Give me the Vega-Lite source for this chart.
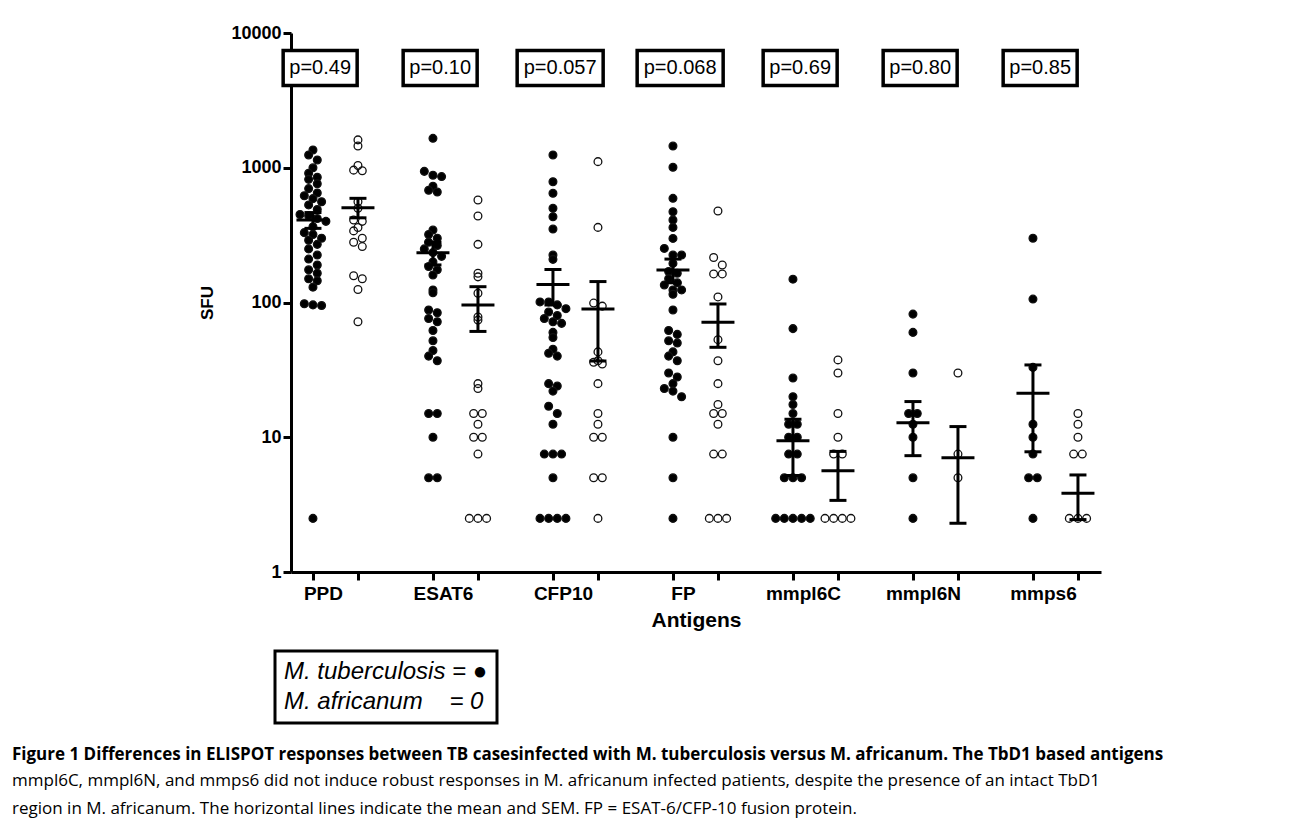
{
  "$schema": "https://vega.github.io/schema/vega-lite/v6.json",
  "width": 810,
  "height": 539,
  "autosize": {"type": "none"},
  "padding": {"left": 291, "top": 33, "right": 189, "bottom": 252},
  "background": "white",
  "title": {
    "text": "Figure 1 Differences in ELISPOT responses between TB casesinfected with M. tuberculosis versus M. africanum. The TbD1 based antigens",
    "subtitle": ["mmpl6C, mmpl6N, and mmps6 did not induce robust responses in M. africanum infected patients, despite the presence of an intact TbD1", "region in M. africanum. The horizontal lines indicate the mean and SEM. FP = ESAT-6/CFP-10 fusion protein."],
    "orient": "bottom", "anchor": "start", "frame": "group", "dx": -279, "offset": 22,
    "font": "Open Sans", "fontSize": 17, "fontWeight": "bold", "color": "#000000",
    "subtitleFont": "Open Sans", "subtitleFontSize": 17, "subtitleColor": "#000000", "subtitlePadding": 9, "subtitleLineHeight": 28
  },
  "config": {
    "view": {"stroke": null},
    "axis": {"domainColor": "#000000", "domainWidth": 3, "tickColor": "#000000", "tickWidth": 3, "tickSize": 8, "labelColor": "#000000", "titleColor": "#000000", "grid": false, "labelFont": "Liberation Sans", "titleFont": "Liberation Sans"},
    "legend": {"strokeWidth": 3}
  },
  "datasets": {
    "pts": [
      {"antigen":"PPD","group":"Mtb","sfu":1355},{"antigen":"PPD","group":"Mtb","sfu":1244},{"antigen":"PPD","group":"Mtb","sfu":1142},{"antigen":"PPD","group":"Mtb","sfu":1000},{"antigen":"PPD","group":"Mtb","sfu":910},{"antigen":"PPD","group":"Mtb","sfu":850},{"antigen":"PPD","group":"Mtb","sfu":820},{"antigen":"PPD","group":"Mtb","sfu":760},{"antigen":"PPD","group":"Mtb","sfu":700},{"antigen":"PPD","group":"Mtb","sfu":650},{"antigen":"PPD","group":"Mtb","sfu":620},{"antigen":"PPD","group":"Mtb","sfu":590},{"antigen":"PPD","group":"Mtb","sfu":560},{"antigen":"PPD","group":"Mtb","sfu":530},{"antigen":"PPD","group":"Mtb","sfu":490},{"antigen":"PPD","group":"Mtb","sfu":450},{"antigen":"PPD","group":"Mtb","sfu":440},{"antigen":"PPD","group":"Mtb","sfu":420},{"antigen":"PPD","group":"Mtb","sfu":400},{"antigen":"PPD","group":"Mtb","sfu":365},{"antigen":"PPD","group":"Mtb","sfu":330},{"antigen":"PPD","group":"Mtb","sfu":320},{"antigen":"PPD","group":"Mtb","sfu":300},{"antigen":"PPD","group":"Mtb","sfu":290},{"antigen":"PPD","group":"Mtb","sfu":270},{"antigen":"PPD","group":"Mtb","sfu":250},{"antigen":"PPD","group":"Mtb","sfu":225},{"antigen":"PPD","group":"Mtb","sfu":210},{"antigen":"PPD","group":"Mtb","sfu":190},{"antigen":"PPD","group":"Mtb","sfu":175},{"antigen":"PPD","group":"Mtb","sfu":165},{"antigen":"PPD","group":"Mtb","sfu":150},{"antigen":"PPD","group":"Mtb","sfu":145},{"antigen":"PPD","group":"Mtb","sfu":130},{"antigen":"PPD","group":"Mtb","sfu":98},{"antigen":"PPD","group":"Mtb","sfu":96},{"antigen":"PPD","group":"Mtb","sfu":95},{"antigen":"PPD","group":"Mtb","sfu":2.5},
      {"antigen":"PPD","group":"Maf","sfu":1610},{"antigen":"PPD","group":"Maf","sfu":1450},{"antigen":"PPD","group":"Maf","sfu":1040},{"antigen":"PPD","group":"Maf","sfu":960},{"antigen":"PPD","group":"Maf","sfu":950},{"antigen":"PPD","group":"Maf","sfu":560},{"antigen":"PPD","group":"Maf","sfu":500},{"antigen":"PPD","group":"Maf","sfu":410},{"antigen":"PPD","group":"Maf","sfu":400},{"antigen":"PPD","group":"Maf","sfu":360},{"antigen":"PPD","group":"Maf","sfu":340},{"antigen":"PPD","group":"Maf","sfu":300},{"antigen":"PPD","group":"Maf","sfu":280},{"antigen":"PPD","group":"Maf","sfu":260},{"antigen":"PPD","group":"Maf","sfu":158},{"antigen":"PPD","group":"Maf","sfu":150},{"antigen":"PPD","group":"Maf","sfu":125},{"antigen":"PPD","group":"Maf","sfu":72},
      {"antigen":"ESAT6","group":"Mtb","sfu":1653},{"antigen":"ESAT6","group":"Mtb","sfu":940},{"antigen":"ESAT6","group":"Mtb","sfu":880},{"antigen":"ESAT6","group":"Mtb","sfu":860},{"antigen":"ESAT6","group":"Mtb","sfu":730},{"antigen":"ESAT6","group":"Mtb","sfu":680},{"antigen":"ESAT6","group":"Mtb","sfu":660},{"antigen":"ESAT6","group":"Mtb","sfu":345},{"antigen":"ESAT6","group":"Mtb","sfu":320},{"antigen":"ESAT6","group":"Mtb","sfu":300},{"antigen":"ESAT6","group":"Mtb","sfu":280},{"antigen":"ESAT6","group":"Mtb","sfu":265},{"antigen":"ESAT6","group":"Mtb","sfu":250},{"antigen":"ESAT6","group":"Mtb","sfu":235},{"antigen":"ESAT6","group":"Mtb","sfu":220},{"antigen":"ESAT6","group":"Mtb","sfu":200},{"antigen":"ESAT6","group":"Mtb","sfu":185},{"antigen":"ESAT6","group":"Mtb","sfu":175},{"antigen":"ESAT6","group":"Mtb","sfu":160},{"antigen":"ESAT6","group":"Mtb","sfu":124},{"antigen":"ESAT6","group":"Mtb","sfu":118},{"antigen":"ESAT6","group":"Mtb","sfu":88},{"antigen":"ESAT6","group":"Mtb","sfu":84},{"antigen":"ESAT6","group":"Mtb","sfu":76},{"antigen":"ESAT6","group":"Mtb","sfu":72},{"antigen":"ESAT6","group":"Mtb","sfu":62},{"antigen":"ESAT6","group":"Mtb","sfu":52},{"antigen":"ESAT6","group":"Mtb","sfu":44},{"antigen":"ESAT6","group":"Mtb","sfu":40},{"antigen":"ESAT6","group":"Mtb","sfu":37},{"antigen":"ESAT6","group":"Mtb","sfu":15},{"antigen":"ESAT6","group":"Mtb","sfu":15},{"antigen":"ESAT6","group":"Mtb","sfu":10},{"antigen":"ESAT6","group":"Mtb","sfu":5},{"antigen":"ESAT6","group":"Mtb","sfu":5},
      {"antigen":"ESAT6","group":"Maf","sfu":576},{"antigen":"ESAT6","group":"Maf","sfu":438},{"antigen":"ESAT6","group":"Maf","sfu":270},{"antigen":"ESAT6","group":"Maf","sfu":165},{"antigen":"ESAT6","group":"Maf","sfu":155},{"antigen":"ESAT6","group":"Maf","sfu":117},{"antigen":"ESAT6","group":"Maf","sfu":78},{"antigen":"ESAT6","group":"Maf","sfu":74},{"antigen":"ESAT6","group":"Maf","sfu":25},{"antigen":"ESAT6","group":"Maf","sfu":23},{"antigen":"ESAT6","group":"Maf","sfu":15},{"antigen":"ESAT6","group":"Maf","sfu":15},{"antigen":"ESAT6","group":"Maf","sfu":12.5},{"antigen":"ESAT6","group":"Maf","sfu":10},{"antigen":"ESAT6","group":"Maf","sfu":10},{"antigen":"ESAT6","group":"Maf","sfu":7.5},{"antigen":"ESAT6","group":"Maf","sfu":2.5},{"antigen":"ESAT6","group":"Maf","sfu":2.5},{"antigen":"ESAT6","group":"Maf","sfu":2.5},
      {"antigen":"CFP10","group":"Mtb","sfu":1244},{"antigen":"CFP10","group":"Mtb","sfu":788},{"antigen":"CFP10","group":"Mtb","sfu":646},{"antigen":"CFP10","group":"Mtb","sfu":500},{"antigen":"CFP10","group":"Mtb","sfu":433},{"antigen":"CFP10","group":"Mtb","sfu":351},{"antigen":"CFP10","group":"Mtb","sfu":225},{"antigen":"CFP10","group":"Mtb","sfu":209},{"antigen":"CFP10","group":"Mtb","sfu":101},{"antigen":"CFP10","group":"Mtb","sfu":101},{"antigen":"CFP10","group":"Mtb","sfu":96},{"antigen":"CFP10","group":"Mtb","sfu":90},{"antigen":"CFP10","group":"Mtb","sfu":85},{"antigen":"CFP10","group":"Mtb","sfu":80},{"antigen":"CFP10","group":"Mtb","sfu":76},{"antigen":"CFP10","group":"Mtb","sfu":72},{"antigen":"CFP10","group":"Mtb","sfu":70},{"antigen":"CFP10","group":"Mtb","sfu":60},{"antigen":"CFP10","group":"Mtb","sfu":55},{"antigen":"CFP10","group":"Mtb","sfu":45},{"antigen":"CFP10","group":"Mtb","sfu":42},{"antigen":"CFP10","group":"Mtb","sfu":40},{"antigen":"CFP10","group":"Mtb","sfu":25},{"antigen":"CFP10","group":"Mtb","sfu":24},{"antigen":"CFP10","group":"Mtb","sfu":22},{"antigen":"CFP10","group":"Mtb","sfu":17},{"antigen":"CFP10","group":"Mtb","sfu":15},{"antigen":"CFP10","group":"Mtb","sfu":12.5},{"antigen":"CFP10","group":"Mtb","sfu":7.5},{"antigen":"CFP10","group":"Mtb","sfu":7.5},{"antigen":"CFP10","group":"Mtb","sfu":7.5},{"antigen":"CFP10","group":"Mtb","sfu":5},{"antigen":"CFP10","group":"Mtb","sfu":2.5},{"antigen":"CFP10","group":"Mtb","sfu":2.5},{"antigen":"CFP10","group":"Mtb","sfu":2.5},{"antigen":"CFP10","group":"Mtb","sfu":2.5},
      {"antigen":"CFP10","group":"Maf","sfu":1110},{"antigen":"CFP10","group":"Maf","sfu":361},{"antigen":"CFP10","group":"Maf","sfu":99},{"antigen":"CFP10","group":"Maf","sfu":94},{"antigen":"CFP10","group":"Maf","sfu":43},{"antigen":"CFP10","group":"Maf","sfu":37},{"antigen":"CFP10","group":"Maf","sfu":36},{"antigen":"CFP10","group":"Maf","sfu":35},{"antigen":"CFP10","group":"Maf","sfu":25},{"antigen":"CFP10","group":"Maf","sfu":15},{"antigen":"CFP10","group":"Maf","sfu":12.5},{"antigen":"CFP10","group":"Maf","sfu":10},{"antigen":"CFP10","group":"Maf","sfu":10},{"antigen":"CFP10","group":"Maf","sfu":5},{"antigen":"CFP10","group":"Maf","sfu":5},{"antigen":"CFP10","group":"Maf","sfu":2.5},
      {"antigen":"FP","group":"Mtb","sfu":1449},{"antigen":"FP","group":"Mtb","sfu":1008},{"antigen":"FP","group":"Mtb","sfu":593},{"antigen":"FP","group":"Mtb","sfu":472},{"antigen":"FP","group":"Mtb","sfu":410},{"antigen":"FP","group":"Mtb","sfu":361},{"antigen":"FP","group":"Mtb","sfu":299},{"antigen":"FP","group":"Mtb","sfu":252},{"antigen":"FP","group":"Mtb","sfu":225},{"antigen":"FP","group":"Mtb","sfu":225},{"antigen":"FP","group":"Mtb","sfu":195},{"antigen":"FP","group":"Mtb","sfu":170},{"antigen":"FP","group":"Mtb","sfu":165},{"antigen":"FP","group":"Mtb","sfu":150},{"antigen":"FP","group":"Mtb","sfu":140},{"antigen":"FP","group":"Mtb","sfu":135},{"antigen":"FP","group":"Mtb","sfu":124},{"antigen":"FP","group":"Mtb","sfu":124},{"antigen":"FP","group":"Mtb","sfu":115},{"antigen":"FP","group":"Mtb","sfu":88},{"antigen":"FP","group":"Mtb","sfu":62},{"antigen":"FP","group":"Mtb","sfu":58},{"antigen":"FP","group":"Mtb","sfu":52},{"antigen":"FP","group":"Mtb","sfu":50},{"antigen":"FP","group":"Mtb","sfu":43},{"antigen":"FP","group":"Mtb","sfu":40},{"antigen":"FP","group":"Mtb","sfu":37},{"antigen":"FP","group":"Mtb","sfu":30},{"antigen":"FP","group":"Mtb","sfu":28},{"antigen":"FP","group":"Mtb","sfu":25},{"antigen":"FP","group":"Mtb","sfu":23},{"antigen":"FP","group":"Mtb","sfu":22},{"antigen":"FP","group":"Mtb","sfu":20},{"antigen":"FP","group":"Mtb","sfu":10},{"antigen":"FP","group":"Mtb","sfu":5},{"antigen":"FP","group":"Mtb","sfu":2.5},
      {"antigen":"FP","group":"Maf","sfu":478},{"antigen":"FP","group":"Maf","sfu":216},{"antigen":"FP","group":"Maf","sfu":190},{"antigen":"FP","group":"Maf","sfu":163},{"antigen":"FP","group":"Maf","sfu":163},{"antigen":"FP","group":"Maf","sfu":110},{"antigen":"FP","group":"Maf","sfu":53},{"antigen":"FP","group":"Maf","sfu":37},{"antigen":"FP","group":"Maf","sfu":25},{"antigen":"FP","group":"Maf","sfu":17.5},{"antigen":"FP","group":"Maf","sfu":15},{"antigen":"FP","group":"Maf","sfu":15},{"antigen":"FP","group":"Maf","sfu":12.5},{"antigen":"FP","group":"Maf","sfu":7.5},{"antigen":"FP","group":"Maf","sfu":7.5},{"antigen":"FP","group":"Maf","sfu":2.5},{"antigen":"FP","group":"Maf","sfu":2.5},{"antigen":"FP","group":"Maf","sfu":2.5},
      {"antigen":"mmpl6C","group":"Mtb","sfu":149},{"antigen":"mmpl6C","group":"Mtb","sfu":64},{"antigen":"mmpl6C","group":"Mtb","sfu":27.5},{"antigen":"mmpl6C","group":"Mtb","sfu":20},{"antigen":"mmpl6C","group":"Mtb","sfu":17.5},{"antigen":"mmpl6C","group":"Mtb","sfu":15},{"antigen":"mmpl6C","group":"Mtb","sfu":12.5},{"antigen":"mmpl6C","group":"Mtb","sfu":12.5},{"antigen":"mmpl6C","group":"Mtb","sfu":10},{"antigen":"mmpl6C","group":"Mtb","sfu":10},{"antigen":"mmpl6C","group":"Mtb","sfu":7.5},{"antigen":"mmpl6C","group":"Mtb","sfu":7.5},{"antigen":"mmpl6C","group":"Mtb","sfu":5},{"antigen":"mmpl6C","group":"Mtb","sfu":5},{"antigen":"mmpl6C","group":"Mtb","sfu":5},{"antigen":"mmpl6C","group":"Mtb","sfu":2.5},{"antigen":"mmpl6C","group":"Mtb","sfu":2.5},{"antigen":"mmpl6C","group":"Mtb","sfu":2.5},{"antigen":"mmpl6C","group":"Mtb","sfu":2.5},{"antigen":"mmpl6C","group":"Mtb","sfu":2.5},
      {"antigen":"mmpl6C","group":"Maf","sfu":37.5},{"antigen":"mmpl6C","group":"Maf","sfu":30},{"antigen":"mmpl6C","group":"Maf","sfu":15},{"antigen":"mmpl6C","group":"Maf","sfu":10},{"antigen":"mmpl6C","group":"Maf","sfu":7.5},{"antigen":"mmpl6C","group":"Maf","sfu":7.5},{"antigen":"mmpl6C","group":"Maf","sfu":2.5},{"antigen":"mmpl6C","group":"Maf","sfu":2.5},{"antigen":"mmpl6C","group":"Maf","sfu":2.5},{"antigen":"mmpl6C","group":"Maf","sfu":2.5},
      {"antigen":"mmpl6N","group":"Mtb","sfu":82},{"antigen":"mmpl6N","group":"Mtb","sfu":60},{"antigen":"mmpl6N","group":"Mtb","sfu":30},{"antigen":"mmpl6N","group":"Mtb","sfu":15},{"antigen":"mmpl6N","group":"Mtb","sfu":15},{"antigen":"mmpl6N","group":"Mtb","sfu":12.5},{"antigen":"mmpl6N","group":"Mtb","sfu":10},{"antigen":"mmpl6N","group":"Mtb","sfu":5},{"antigen":"mmpl6N","group":"Mtb","sfu":2.5},
      {"antigen":"mmpl6N","group":"Maf","sfu":30},{"antigen":"mmpl6N","group":"Maf","sfu":7.5},{"antigen":"mmpl6N","group":"Maf","sfu":5},
      {"antigen":"mmps6","group":"Mtb","sfu":300},{"antigen":"mmps6","group":"Mtb","sfu":106},{"antigen":"mmps6","group":"Mtb","sfu":33},{"antigen":"mmps6","group":"Mtb","sfu":12.5},{"antigen":"mmps6","group":"Mtb","sfu":10},{"antigen":"mmps6","group":"Mtb","sfu":7.5},{"antigen":"mmps6","group":"Mtb","sfu":5},{"antigen":"mmps6","group":"Mtb","sfu":5},{"antigen":"mmps6","group":"Mtb","sfu":2.5},
      {"antigen":"mmps6","group":"Maf","sfu":15},{"antigen":"mmps6","group":"Maf","sfu":12.5},{"antigen":"mmps6","group":"Maf","sfu":10},{"antigen":"mmps6","group":"Maf","sfu":7.5},{"antigen":"mmps6","group":"Maf","sfu":7.5},{"antigen":"mmps6","group":"Maf","sfu":2.5},{"antigen":"mmps6","group":"Maf","sfu":2.5},{"antigen":"mmps6","group":"Maf","sfu":2.5}
    ],
    "stats": [
      {"antigen":"PPD","group":"Mtb","mean":410,"lo":355,"hi":465},
      {"antigen":"PPD","group":"Maf","mean":505,"lo":425,"hi":593},
      {"antigen":"ESAT6","group":"Mtb","mean":234,"lo":190,"hi":280},
      {"antigen":"ESAT6","group":"Maf","mean":96,"lo":61,"hi":131},
      {"antigen":"CFP10","group":"Mtb","mean":136,"lo":96,"hi":176},
      {"antigen":"CFP10","group":"Maf","mean":89.5,"lo":36.8,"hi":143},
      {"antigen":"FP","group":"Mtb","mean":174,"lo":140,"hi":210},
      {"antigen":"FP","group":"Maf","mean":71.3,"lo":46.5,"hi":97.5},
      {"antigen":"mmpl6C","group":"Mtb","mean":9.4,"lo":5.2,"hi":13.6},
      {"antigen":"mmpl6C","group":"Maf","mean":5.65,"lo":3.4,"hi":7.85},
      {"antigen":"mmpl6N","group":"Mtb","mean":12.8,"lo":7.3,"hi":18.4},
      {"antigen":"mmpl6N","group":"Maf","mean":7.05,"lo":2.3,"hi":12},
      {"antigen":"mmps6","group":"Mtb","mean":21.2,"lo":7.8,"hi":34.4},
      {"antigen":"mmps6","group":"Maf","mean":3.84,"lo":2.45,"hi":5.25}
    ],
    "pvals": [
      {"antigen":"PPD","p":"p=0.49"},
      {"antigen":"ESAT6","p":"p=0.10"},
      {"antigen":"CFP10","p":"p=0.057"},
      {"antigen":"FP","p":"p=0.068"},
      {"antigen":"mmpl6C","p":"p=0.69"},
      {"antigen":"mmpl6N","p":"p=0.80"},
      {"antigen":"mmps6","p":"p=0.85"}
    ]
  },
  "layer": [
    {
      "data": {"name": "pts"},
      "transform": [
        {"calculate": "indexof(['PPD','ESAT6','CFP10','FP','mmpl6C','mmpl6N','mmps6'], datum.antigen) + (datum.group == 'Maf' ? 0.375 : 0)", "as": "base"},
        {"calculate": "floor(log(datum.sfu) / LN10 / 0.065)", "as": "bin"},
        {"window": [{"op": "row_number", "as": "k"}], "groupby": ["antigen", "group", "bin"]},
        {"joinaggregate": [{"op": "count", "as": "n"}], "groupby": ["antigen", "group", "bin"]},
        {"calculate": "datum.base + (datum.k - (datum.n + 1) / 2) * 0.072", "as": "xpos"}
      ],
      "mark": {"type": "point", "shape": "circle", "filled": true, "size": 60, "stroke": "#111111", "strokeWidth": 1.3, "opacity": 1},
      "encoding": {
        "x": {"field": "xpos", "type": "quantitative",
              "scale": {"domain": [-0.183, 6.567], "nice": false, "zero": false},
              "axis": {"values": [0, 0.375, 1, 1.375, 2, 2.375, 3, 3.375, 4, 4.375, 5, 5.375, 6, 6.375],
                       "labelExpr": "datum.value % 1 === 0 ? ['PPD','ESAT6','CFP10','FP','mmpl6C','mmpl6N','mmps6'][datum.value] : ''",
                       "labelOverlap": false, "labelFontSize": 19, "labelFontWeight": "bold", "labelOffset": 10, "labelPadding": 4,
                       "title": "Antigens", "titleFontSize": 21, "titleFontWeight": "bold", "titlePadding": 6}},
        "y": {"field": "sfu", "type": "quantitative",
              "scale": {"type": "log", "domain": [1, 10000], "nice": false},
              "axis": {"values": [1, 10, 100, 1000, 10000], "format": "d", "labelFontSize": 18, "labelFontWeight": "bold", "labelPadding": 2,
                       "title": "SFU", "titleFontSize": 17, "titleFontWeight": "bold", "titlePadding": 14}},
        "fill": {"field": "group", "type": "nominal",
                 "scale": {"domain": ["Mtb", "Maf"], "range": ["#000000", "transparent"]},
                 "legend": {"orient": "none", "legendX": -16, "legendY": 618, "title": null,
                            "labelExpr": "datum.label == 'Mtb' ? 'M. tuberculosis = ●' : 'M. africanum\u00a0\u00a0\u00a0\u00a0= 0'",
                            "labelFont": "Liberation Sans", "labelFontStyle": "italic", "labelFontSize": 24, "labelColor": "#000000", "labelLimit": 400,
                            "symbolSize": 0, "symbolStrokeWidth": 0, "symbolOpacity": 0, "labelOffset": -24,
                            "strokeColor": "#000000", "padding": 9, "rowPadding": 6}}
      }
    },
    {
      "mark": {"type": "rule", "strokeDash": [9, 5], "strokeWidth": 2.5, "color": "#000000"},
      "encoding": {"y": {"datum": 8}}
    },
    {
      "data": {"name": "stats"},
      "transform": [
        {"calculate": "indexof(['PPD','ESAT6','CFP10','FP','mmpl6C','mmpl6N','mmps6'], datum.antigen) + (datum.group == 'Maf' ? 0.375 : 0)", "as": "base"}
      ],
      "layer": [
        {
          "mark": {"type": "rule", "strokeWidth": 3, "color": "#000000"},
          "encoding": {
            "x": {"field": "base", "type": "quantitative"},
            "y": {"field": "lo", "type": "quantitative"},
            "y2": {"field": "hi"}
          }
        },
        {
          "mark": {"type": "tick", "orient": "horizontal", "size": 33, "thickness": 3, "color": "#000000", "opacity": 1},
          "encoding": {
            "x": {"field": "base", "type": "quantitative"},
            "y": {"field": "mean", "type": "quantitative"}
          }
        },
        {
          "transform": [{"fold": ["lo", "hi"], "as": ["bound", "val"]}],
          "mark": {"type": "tick", "orient": "horizontal", "size": 17, "thickness": 3, "color": "#000000", "opacity": 1},
          "encoding": {
            "x": {"field": "base", "type": "quantitative"},
            "y": {"field": "val", "type": "quantitative"}
          }
        }
      ]
    },
    {
      "data": {"name": "pvals"},
      "transform": [
        {"calculate": "indexof(['PPD','ESAT6','CFP10','FP','mmpl6C','mmpl6N','mmps6'], datum.antigen) + 0.06", "as": "px"}
      ],
      "layer": [
        {
          "mark": {"type": "point", "filled": false, "fill": "#ffffff", "stroke": "#000000", "strokeWidth": 3.5, "opacity": 1},
          "encoding": {
            "x": {"field": "px", "type": "quantitative"},
            "y": {"datum": 5500},
            "shape": {"condition": {"test": "length(datum.p) > 6", "value": "M-1,-0.407H1V0.407H-1Z"}, "value": "M-1,-0.473H1V0.473H-1Z"},
            "size": {"condition": {"test": "length(datum.p) > 6", "value": 7396}, "value": 5476}
          }
        },
        {
          "mark": {"type": "text", "font": "Liberation Sans", "fontSize": 20, "color": "#000000", "baseline": "middle", "align": "center"},
          "encoding": {
            "x": {"field": "px", "type": "quantitative"},
            "y": {"datum": 5500},
            "text": {"field": "p"}
          }
        }
      ]
    }
  ]
}
